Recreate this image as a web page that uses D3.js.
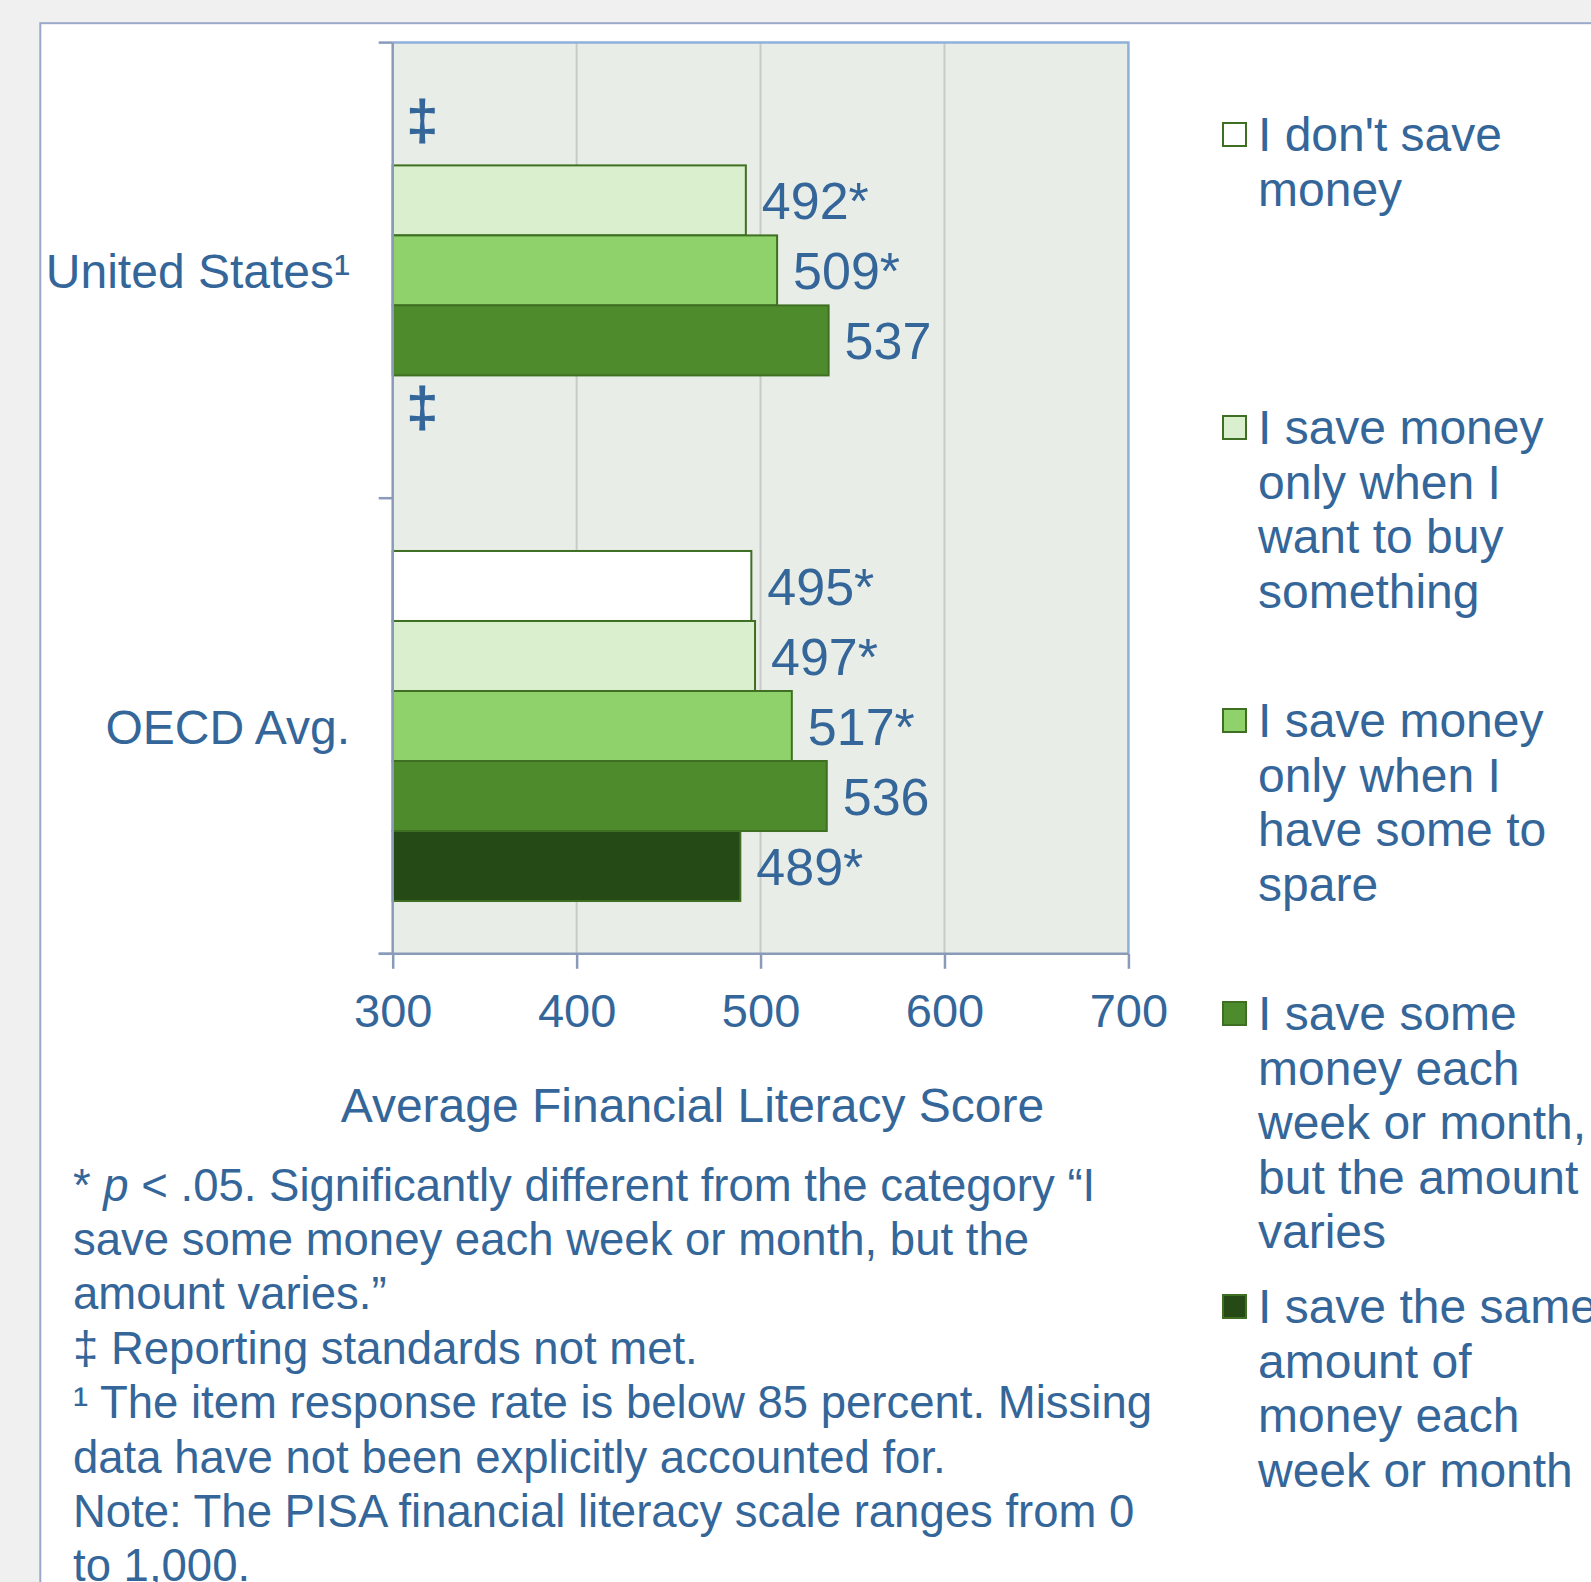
<!DOCTYPE html>
<html>
<head>
<meta charset="utf-8">
<script src="https://cdn.jsdelivr.net/npm/d3@7"></script>
<style>
  body { margin: 0; background: #f0f0f0; }
  svg { display: block; font-family: "Liberation Sans", Arial, sans-serif; }
  text { fill: #346699; }
</style>
</head>
<body>
<svg id="chart" width="1591" height="1582"></svg>
<script>
// data
var categories = ["United States¹", "OECD Avg."];
var seriesKeys = ["none", "wantBuy", "spare", "varies", "same"];
var usScores = [null, 492, 509, 537, null];
var usSignificant = [false, true, true, false, false];
var oecdScores = [495, 497, 517, 536, 489];
var oecdSignificant = [true, true, true, false, true];
var seriesColors = ["#ffffff", "#d9efce", "#8fd16b", "#4e8b2c", "#264a16"];
var legendLabels = [
	["I don't save", "money"],
	["I save money", "only when I", "want to buy", "something"],
	["I save money", "only when I", "have some to", "spare"],
	["I save some", "money each", "week or month,", "but the amount", "varies"],
	["I save the same", "amount of", "money each", "week or month"]
];
var xTicks = [300, 400, 500, 600, 700];
var xTitle = "Average Financial Literacy Score";
var footnotes = [
	[{t: "* "}, {t: "p", i: true}, {t: " < .05. Significantly different from the category \u201cI"}],
	[{t: "save some money each week or month, but the"}],
	[{t: "amount varies.\u201d"}],
	[{t: "\u2021 Reporting standards not met."}],
	[{t: "\u00b9 The item response rate is below 85 percent. Missing"}],
	[{t: "data have not been explicitly accounted for."}],
	[{t: "Note: The PISA financial literacy scale ranges from 0"}],
	[{t: "to 1,000."}]
];

var rows = [
	{cat: categories[0], scores: usScores, sig: usSignificant},
	{cat: categories[1], scores: oecdScores, sig: oecdSignificant}
];

var plot = {left: 392.7, right: 1128.4, top: 42.6, bottom: 953.8};

var svg = d3.select("#chart");

// white panel
svg.append("rect")
	.attr("x", 40.3).attr("y", 23.2)
	.attr("width", 1700).attr("height", 1700)
	.attr("fill", "#ffffff")
	.attr("stroke", "#9aa9c8")
	.attr("stroke-width", 2);

var x = d3.scaleLinear().domain([300, 700]).range([plot.left, plot.right]);
var y0 = d3.scaleBand().domain(categories).range([plot.top, plot.bottom]).padding(0);
var y1 = d3.scaleBand().domain(seriesKeys).range([0, y0.bandwidth()]).paddingInner(0).paddingOuter(0.754);

// plot background
svg.append("rect")
	.attr("x", plot.left).attr("y", plot.top)
	.attr("width", plot.right - plot.left).attr("height", plot.bottom - plot.top)
	.attr("fill", "#e8ede7");

// gridlines
svg.append("g").selectAll("line")
	.data(xTicks.slice(1, -1))
	.enter().append("line")
	.attr("x1", function(d) { return x(d); })
	.attr("x2", function(d) { return x(d); })
	.attr("y1", plot.top).attr("y2", plot.bottom)
	.attr("stroke", "#c9cbc9")
	.attr("stroke-width", 2);

// plot border top / right
svg.append("path")
	.attr("d", "M" + plot.left + "," + plot.top + "H" + plot.right + "V" + plot.bottom)
	.attr("fill", "none")
	.attr("stroke", "#8fb0da")
	.attr("stroke-width", 2.5);

// bars
var groups = svg.append("g").selectAll("g")
	.data(rows)
	.enter().append("g")
	.attr("transform", function(d) { return "translate(0," + y0(d.cat) + ")"; });

function rowItems(d) {
	return d.scores.map(function(v, i) { return {key: seriesKeys[i], value: v, sig: d.sig[i], i: i}; });
}

groups.selectAll("rect")
	.data(rowItems)
	.enter().filter(function(d) { return d.value != null; })
	.append("rect")
	.attr("x", x(300))
	.attr("y", function(d) { return y1(d.key); })
	.attr("width", function(d) { return x(d.value) - x(300); })
	.attr("height", y1.bandwidth())
	.attr("fill", function(d) { return seriesColors[d.i]; })
	.attr("stroke", "#3f6f22")
	.attr("stroke-width", 2);

groups.selectAll("text")
	.data(rowItems)
	.enter().append("text")
	.attr("x", function(d) { return d.value == null ? x(300) + 14 : x(d.value) + 16; })
	.attr("y", function(d) {
		var c = y1(d.key) + y1.bandwidth() / 2;
		return d.value == null ? c + 16 - (d.i === 0 ? 7 : 0) : c + 18.6;
	})
	.attr("font-size", function(d) { return d.value == null ? 56 : 52; })
	.attr("stroke", function(d) { return d.value == null ? "#346699" : null; })
	.attr("stroke-width", function(d) { return d.value == null ? 1.2 : null; })
	.text(function(d) { return d.value == null ? "\u2021" : d.value + (d.sig ? "*" : ""); });

// left axis
var axisColor = "#8a9bba";
svg.append("line")
	.attr("x1", plot.left).attr("x2", plot.left)
	.attr("y1", plot.top).attr("y2", plot.bottom)
	.attr("stroke", axisColor).attr("stroke-width", 2.5);
var bounds = categories.map(function(c) { return y0(c); }).concat([plot.bottom]);
svg.append("g").selectAll("line")
	.data(bounds)
	.enter().append("line")
	.attr("x1", plot.left - 14).attr("x2", plot.left)
	.attr("y1", function(d) { return d; }).attr("y2", function(d) { return d; })
	.attr("stroke", axisColor).attr("stroke-width", 2.5);

svg.append("g").selectAll("text")
	.data(categories)
	.enter().append("text")
	.attr("x", 350)
	.attr("y", function(d) { return y0(d) + y0.bandwidth() / 2 + 17.5; })
	.attr("text-anchor", "end")
	.attr("font-size", 48)
	.text(function(d) { return d; });

// bottom axis
var xAxis = svg.append("g")
	.attr("transform", "translate(0," + plot.bottom + ")")
	.call(d3.axisBottom(x).tickValues(xTicks).tickSize(15).tickSizeOuter(0));
xAxis.select(".domain").remove();
xAxis.append("line")
	.attr("x1", plot.left - 14).attr("x2", plot.right)
	.attr("stroke", axisColor).attr("stroke-width", 2.5);
xAxis.selectAll(".tick line").attr("stroke", axisColor).attr("stroke-width", 2.5);
xAxis.selectAll(".tick text")
	.attr("y", 73).attr("dy", null)
	.attr("fill", "#346699")
	.style("font-size", "47px")
	.style("font-family", "'Liberation Sans', Arial, sans-serif");

svg.append("text")
	.attr("x", 692.5).attr("y", 1122)
	.attr("text-anchor", "middle")
	.attr("font-size", 48)
	.text(xTitle);

// legend
var legend = svg.append("g").selectAll("g")
	.data(legendLabels)
	.enter().append("g")
	.attr("transform", function(d, i) { return "translate(1222," + (151 + i * 293) + ")"; });

legend.append("rect")
	.attr("x", 1).attr("y", -28)
	.attr("width", 23).attr("height", 23)
	.attr("fill", function(d, i) { return seriesColors[i]; })
	.attr("stroke", "#3f6f22")
	.attr("stroke-width", 2);

legend.append("text")
	.attr("x", 36)
	.attr("font-size", 48)
	.selectAll("tspan")
	.data(function(d) { return d; })
	.enter().append("tspan")
	.attr("x", 36)
	.attr("y", function(d, i) { return i * 54.6; })
	.text(function(d) { return d; });

// footnotes
var notes = svg.append("g").selectAll("text")
	.data(footnotes)
	.enter().append("text")
	.attr("x", 73)
	.attr("y", function(d, i) { return 1200.6 + i * 54.4; })
	.attr("font-size", 45.5);
notes.selectAll("tspan")
	.data(function(d) { return d; })
	.enter().append("tspan")
	.attr("font-style", function(d) { return d.i ? "italic" : null; })
	.text(function(d) { return d.t; });
</script>
</body>
</html>
